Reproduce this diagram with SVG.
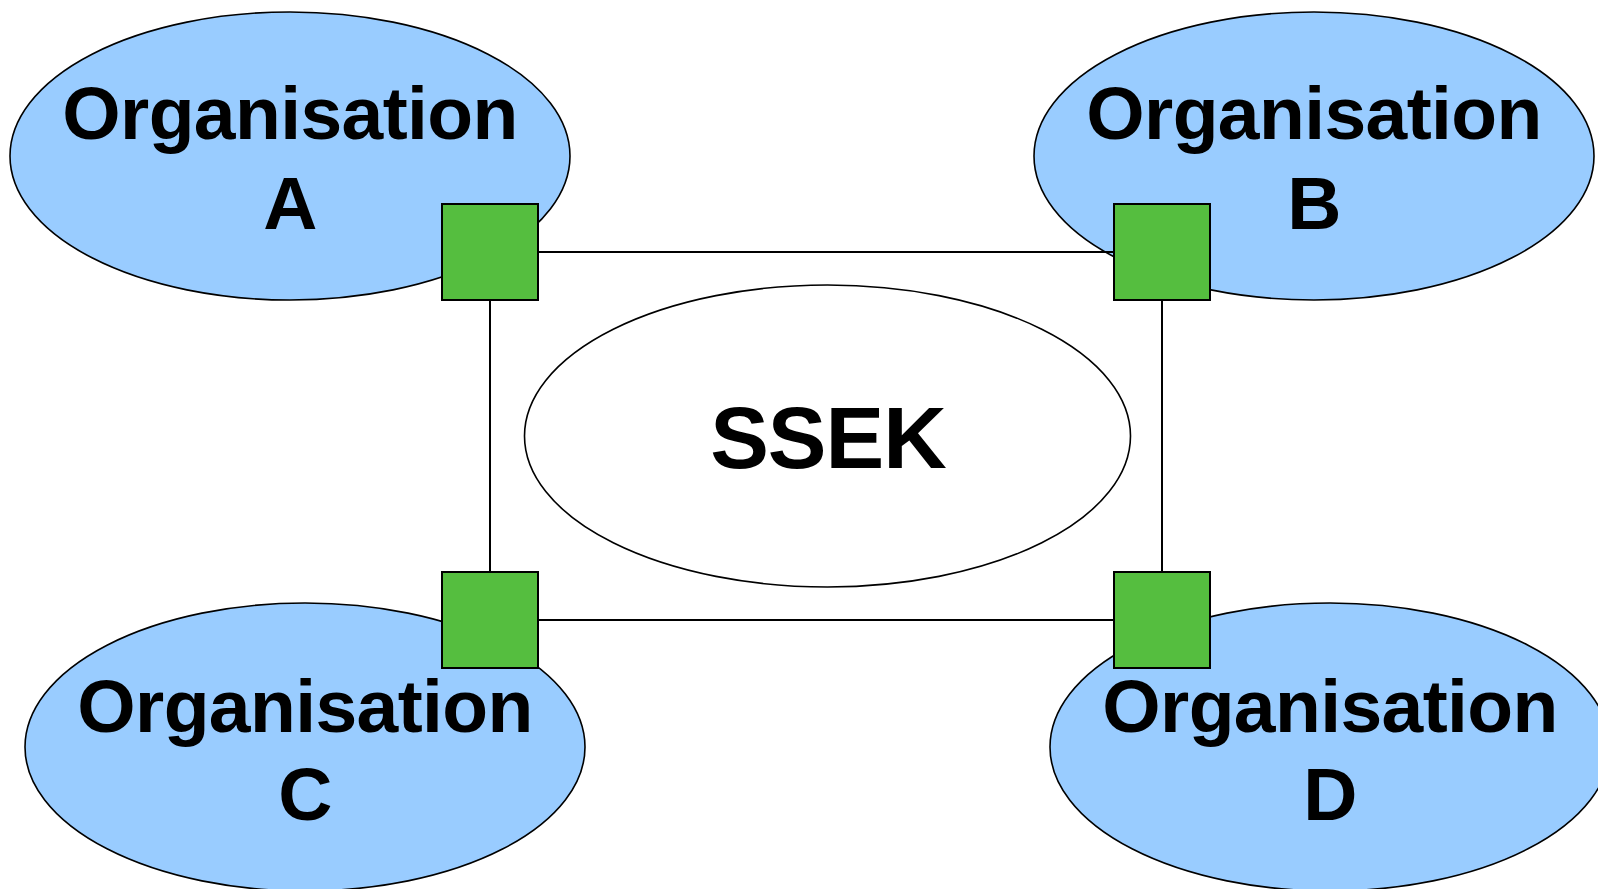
<svg xmlns="http://www.w3.org/2000/svg" width="1598" height="889" viewBox="0 0 1598 889">
<style>
.org{fill:#99ccff;stroke:#000;stroke-width:1.6}
.core{fill:#fff;stroke:#000;stroke-width:1.6}
.port{fill:#55be3f;stroke:#000;stroke-width:2}
.conn{stroke:#000;stroke-width:2;fill:none}
text{font-family:"Liberation Sans",Arial,sans-serif;font-weight:bold;text-anchor:middle;fill:#000}
.t{font-size:75px;letter-spacing:-0.6px}
.s{font-size:88px;letter-spacing:-1px}
</style>
<rect width="1598" height="889" fill="#fff"/>
<g id="orgA"><ellipse class="org" cx="290" cy="156" rx="280" ry="144"/><text class="t" x="290" y="139">Organisation</text><text class="t" x="290" y="229">A</text></g>
<g id="orgB"><ellipse class="org" cx="1314" cy="156" rx="280" ry="144"/><text class="t" x="1314" y="139">Organisation</text><text class="t" x="1314" y="229">B</text></g>
<g id="orgC"><ellipse class="org" cx="305" cy="747" rx="280" ry="144"/><text class="t" x="305" y="732">Organisation</text><text class="t" x="305" y="820">C</text></g>
<g id="orgD"><ellipse class="org" cx="1330" cy="747" rx="280" ry="144"/><text class="t" x="1330" y="732">Organisation</text><text class="t" x="1330" y="820">D</text></g>
<g id="ssek"><ellipse class="core" cx="827.5" cy="436" rx="303" ry="151"/><text class="s" x="828" y="468">SSEK</text></g>
<g id="connectors">
<line class="conn" x1="538" y1="252" x2="1114" y2="252"/>
<line class="conn" x1="538" y1="620" x2="1114" y2="620"/>
<line class="conn" x1="490" y1="300" x2="490" y2="572"/>
<line class="conn" x1="1162" y1="300" x2="1162" y2="572"/>
</g>
<g id="portA"><rect class="port" x="442" y="204" width="96" height="96"/></g>
<g id="portB"><rect class="port" x="1114" y="204" width="96" height="96"/></g>
<g id="portC"><rect class="port" x="442" y="572" width="96" height="96"/></g>
<g id="portD"><rect class="port" x="1114" y="572" width="96" height="96"/></g>
</svg>
